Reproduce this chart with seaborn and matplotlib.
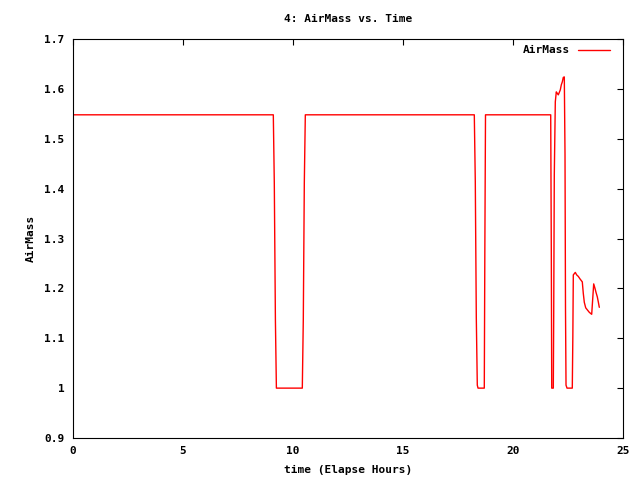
import matplotlib
matplotlib.use("Agg")
import matplotlib.pyplot as plt
import matplotlib.ticker as mticker
import numpy as np
import pandas as pd
import seaborn as sns

# elapsed hours and air mass
hours = [0.0,
         9.105, 9.15, 9.2, 9.245, 10.423, 10.468, 10.514, 10.56,
         18.241, 18.286, 18.332, 18.377, 18.41, 18.695, 18.72, 18.75,
         21.714, 21.741, 21.76, 21.832, 21.85, 21.877, 21.923, 21.968,
         22.014, 22.059, 22.105, 22.15, 22.195, 22.241, 22.286, 22.332,
         22.364, 22.386, 22.41, 22.455, 22.695, 22.72, 22.741, 22.832,
         22.895, 22.968, 23.045, 23.15, 23.195, 23.241, 23.305, 23.377,
         23.468, 23.577, 23.668, 23.727, 23.773, 23.832, 23.877, 23.923]
airmass = [1.548,
           1.548, 1.411, 1.137, 1.0, 1.0, 1.137, 1.411, 1.548,
           1.548, 1.414, 1.141, 1.006, 1.0, 1.0, 1.275, 1.548,
           1.548, 1.276, 1.0, 1.0, 1.143, 1.427, 1.574, 1.594,
           1.591, 1.588, 1.593, 1.598, 1.608, 1.614, 1.623, 1.624,
           1.469, 1.161, 1.006, 1.0, 1.0, 1.103, 1.227, 1.232,
           1.227, 1.224, 1.219, 1.213, 1.19, 1.172, 1.161, 1.157,
           1.152, 1.148, 1.209, 1.2, 1.192, 1.183, 1.173, 1.162]

df = pd.DataFrame({"time": hours, "AirMass": airmass})

sns.set_style("white")
plt.rcParams["font.family"] = ["DejaVu Sans Mono"]
plt.rcParams["font.size"] = 8
plt.rcParams["font.weight"] = "bold"
plt.rcParams["text.color"] = "black"
plt.rcParams["axes.labelcolor"] = "black"

fig = plt.figure(figsize=(6.4, 4.8), dpi=100)
ax = fig.add_axes([73 / 640, 1 - 438 / 480, 550 / 640, 399 / 480])

sns.lineplot(data=df, x="time", y="AirMass", sort=False, color="red",
             linewidth=1, label="AirMass", ax=ax)

ax.set_xlim(0, 25)
ax.set_ylim(0.9, 1.7)
ax.set_xticks(np.arange(0, 26, 5))
ax.set_yticks(np.arange(0.9, 1.71, 0.1))
ax.yaxis.set_major_formatter(mticker.FuncFormatter(lambda v, p: "{:g}".format(round(v, 1))))
ax.tick_params(direction="in", length=4.5, width=0.8, top=True, right=True,
               colors="black", labelsize=8, pad=6)
for s in ax.spines.values():
    s.set_color("black")
    s.set_linewidth(0.8)

ax.set_xlabel("time (Elapse Hours)", fontsize=8, fontweight="bold", labelpad=6)
ax.set_ylabel("AirMass", fontsize=8, fontweight="bold", labelpad=6)
ax.set_title("4: AirMass vs. Time", fontsize=8, fontweight="bold", pad=12)

ax.legend(loc="upper right", bbox_to_anchor=(0.985, 0.995), frameon=False,
          markerfirst=False, handlelength=2.9, handletextpad=0.7,
          fontsize=8, borderaxespad=0.0)

fig.savefig("out.png", dpi=100)
